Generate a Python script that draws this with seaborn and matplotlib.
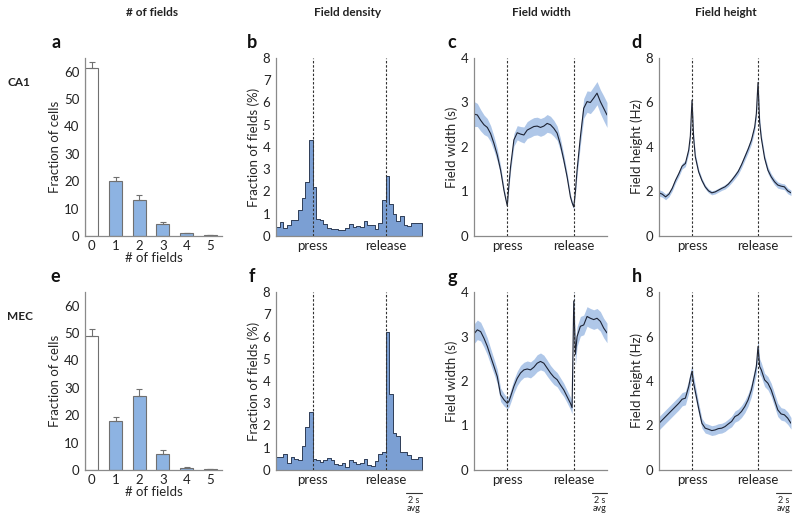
import numpy as np
import pandas as pd
import seaborn as sns
import matplotlib.pyplot as plt


# data                ----------------------------------------------------------------
n_fields = ["0", "1", "2", "3", "4", "5"]
frac_cells_ca1 = [61.5, 20.0, 13.3, 4.2, 1.0, 0.3]
frac_cells_ca1_err = [2.0, 1.7, 1.7, 1.0, 0.25, 0.1]
frac_cells_mec = [48.8, 17.8, 27.2, 5.9, 0.7, 0.2]
frac_cells_mec_err = [2.7, 1.7, 2.5, 1.3, 0.4, 0.1]

# field density, 40 bins over the normalised press-release cycle
density_ca1 = [0.40, 0.65, 0.36, 0.50, 0.72, 0.72, 1.15, 1.70, 2.43, 4.30,
               2.22, 0.76, 0.72, 0.52, 0.36, 0.31, 0.30, 0.27, 0.27, 0.34,
               0.52, 0.39, 0.45, 0.42, 0.69, 0.48, 0.48, 0.31, 0.57, 1.60,
               2.70, 1.42, 1.00, 0.68, 0.88, 0.50, 0.45, 0.57, 0.57, 0.60]
density_mec = [0.60, 0.57, 0.72, 0.30, 0.57, 0.50, 0.45, 1.10, 1.92, 2.60,
               0.48, 0.45, 0.37, 0.45, 0.54, 0.45, 0.25, 0.21, 0.33, 0.15,
               0.45, 0.37, 0.28, 0.33, 0.51, 0.21, 0.18, 0.40, 0.73, 0.80,
               6.20, 3.42, 1.65, 1.55, 0.80, 0.80, 0.68, 0.48, 0.50, 0.57]

# normalised time (press at 0.25, release at 0.75)
t_norm = [0.0, 0.025, 0.05, 0.075, 0.1, 0.125, 0.15, 0.175, 0.2, 0.225,
          0.2375, 0.25, 0.2625, 0.275,
          0.3, 0.325, 0.35, 0.375, 0.4, 0.425, 0.45, 0.475, 0.5, 0.525,
          0.55, 0.575, 0.6, 0.625, 0.65, 0.675, 0.7, 0.725,
          0.7375, 0.75, 0.7625, 0.775,
          0.8, 0.825, 0.85, 0.875, 0.9, 0.925, 0.95, 0.975, 1.0]

width_ca1 = [2.74, 2.72, 2.60, 2.50, 2.44, 2.30, 2.08, 1.82, 1.48, 1.03,
             0.85, 0.68, 1.15, 1.56,
             2.16, 2.32, 2.29, 2.27, 2.38, 2.42, 2.46, 2.47, 2.44, 2.47,
             2.53, 2.50, 2.42, 2.31, 2.05, 1.71, 1.33, 0.88,
             0.75, 0.65, 1.00, 1.48,
             2.23, 2.87, 3.02, 3.00, 3.10, 3.21, 3.02, 2.87, 2.72]
width_ca1_sem = [0.28, 0.26, 0.24, 0.22, 0.20, 0.18, 0.16, 0.14, 0.10, 0.07,
                 0.05, 0.04, 0.06, 0.10,
                 0.14, 0.16, 0.17, 0.18, 0.19, 0.20, 0.20, 0.20, 0.20, 0.20,
                 0.20, 0.19, 0.18, 0.16, 0.14, 0.12, 0.09, 0.06,
                 0.05, 0.04, 0.06, 0.12,
                 0.18, 0.22, 0.24, 0.25, 0.26, 0.26, 0.27, 0.28, 0.28]

height_ca1 = [1.94, 1.88, 1.76, 1.88, 2.14, 2.50, 2.80, 3.14, 3.26, 3.86,
              4.50, 6.10, 4.40, 3.56,
              2.89, 2.50, 2.21, 2.03, 1.94, 1.98, 2.06, 2.14, 2.21, 2.33,
              2.50, 2.69, 2.90, 3.20, 3.55, 3.90, 4.30, 4.90,
              5.50, 6.90, 5.10, 4.40,
              3.50, 2.96, 2.66, 2.44, 2.29, 2.24, 2.21, 2.03, 1.94]
height_ca1_sem = [0.14, 0.14, 0.13, 0.12, 0.12, 0.12, 0.13, 0.13, 0.14, 0.15,
                  0.18, 0.25, 0.18, 0.15,
                  0.12, 0.10, 0.09, 0.09, 0.09, 0.09, 0.09, 0.09, 0.10, 0.10,
                  0.11, 0.12, 0.13, 0.14, 0.15, 0.16, 0.17, 0.18,
                  0.20, 0.30, 0.20, 0.18,
                  0.16, 0.15, 0.14, 0.14, 0.14, 0.13, 0.13, 0.13, 0.12]

width_mec = [3.06, 3.15, 3.11, 2.96, 2.78, 2.55, 2.33, 2.10, 1.69, 1.58,
             1.54, 1.50, 1.54, 1.65,
             1.88, 2.06, 2.18, 2.25, 2.27, 2.25, 2.31, 2.40, 2.44, 2.40,
             2.29, 2.18, 2.09, 2.03, 1.91, 1.80, 1.65, 1.50,
             1.40, 3.80, 2.60, 3.00,
             3.23, 3.26, 3.45, 3.41, 3.38, 3.41, 3.34, 3.19, 3.08]
width_mec_sem = [0.22, 0.22, 0.21, 0.20, 0.19, 0.18, 0.17, 0.16, 0.15, 0.14,
                 0.13, 0.13, 0.13, 0.14,
                 0.15, 0.16, 0.17, 0.17, 0.18, 0.18, 0.18, 0.19, 0.19, 0.18,
                 0.18, 0.17, 0.17, 0.16, 0.16, 0.15, 0.14, 0.14,
                 0.14, 0.30, 0.25, 0.22,
                 0.22, 0.22, 0.22, 0.22, 0.22, 0.22, 0.22, 0.22, 0.22]

height_mec = [2.10, 2.25, 2.40, 2.55, 2.70, 2.85, 3.00, 3.18, 3.23, 3.75,
              4.13, 4.43, 3.90, 3.53,
              2.78, 2.10, 1.88, 1.83, 1.77, 1.80, 1.86, 1.88, 1.95, 2.07,
              2.18, 2.40, 2.48, 2.63, 2.85, 3.15, 3.60, 4.28,
              4.65, 5.55, 4.65, 4.50,
              4.05, 3.90, 3.60, 3.15, 2.70, 2.52, 2.48, 2.33, 2.10]
height_mec_sem = [0.30, 0.30, 0.30, 0.30, 0.30, 0.30, 0.30, 0.30, 0.30, 0.30,
                  0.30, 0.32, 0.30, 0.28,
                  0.25, 0.22, 0.22, 0.22, 0.22, 0.22, 0.22, 0.22, 0.22, 0.22,
                  0.24, 0.25, 0.26, 0.27, 0.28, 0.28, 0.30, 0.30,
                  0.32, 0.40, 0.35, 0.32,
                  0.30, 0.30, 0.30, 0.30, 0.30, 0.28, 0.28, 0.28, 0.26]

event_times = [0.25, 0.75]
event_labels = ["press", "release"]


# style                ----------------------------------------------------------------
sns.set_style("white")
plt.rcParams["font.family"] = ["Lato", "DejaVu Sans"]

BAR_BLUE = "#8db3e2"
HIST_BLUE = "#7b9fd3"
BAND_BLUE = "#a7c1e6"
SPINE = "#8a8a8a"
TXT = "#222222"

fig = plt.figure(figsize=(8, 5.19), dpi=100)
W, H = 800, 519


def add_axes(x0, x1, ytop, ybot):
    return fig.add_axes([x0 / W, 1 - ybot / H, (x1 - x0) / W, (ybot - ytop) / H])


def style_axes(ax):
    sns.despine(ax=ax, top=True, right=True)
    for s in ["left", "bottom"]:
        ax.spines[s].set_color(SPINE)
        ax.spines[s].set_linewidth(0.9)
    ax.tick_params(axis="y", length=2.5, width=0.8, color=SPINE, labelsize=9.5, labelcolor=TXT, pad=1.5)
    ax.tick_params(axis="x", length=0, labelsize=9.5, labelcolor=TXT, pad=3)


def fields_plot(ax, vals, errs):
    df = pd.DataFrame({"n": n_fields, "frac": vals})
    sns.barplot(data=df, x="n", y="frac", hue="n", legend=False,
                palette=["white"] + [BAR_BLUE] * 5, saturation=1, width=0.55,
                edgecolor="#707070", linewidth=0.8, ax=ax)
    centers = [p.get_x() + p.get_width() / 2 for p in ax.patches]
    ax.errorbar(centers, vals, yerr=[np.zeros(len(errs)), errs], fmt="none",
                ecolor="#707070", elinewidth=0.8, capsize=2, capthick=0.8)
    ax.set_xlim(-0.29, 5.5)
    ax.set_ylim(0, 65)
    ax.set_yticks([0, 10, 20, 30, 40, 50, 60])
    ax.set_ylabel("Fraction of cells", fontsize=9.5, labelpad=2)
    ax.set_xlabel("# of fields", fontsize=9.5, labelpad=0)
    style_axes(ax)


def density_plot(ax, vals):
    nbins = len(vals)
    df = pd.DataFrame({"t": (np.arange(nbins) + 0.5) / nbins, "frac": vals})
    sns.histplot(data=df, x="t", weights="frac", bins=nbins, binrange=(0, 1),
                 element="step", fill=True, color=HIST_BLUE, alpha=1,
                 edgecolor="#2e3d57", linewidth=0.7, ax=ax)
    ax.set_xlim(0, 1)
    ax.set_ylim(0, 8)
    ax.set_yticks(range(0, 9))
    ax.set_ylabel("Fraction of fields (%)", fontsize=9.5, labelpad=2)


def curve_plot(ax, mean, sem, ymax, yticks, ylabel):
    mean = np.array(mean)
    sem = np.array(sem)
    ax.fill_between(t_norm, mean - sem, mean + sem, color=BAND_BLUE, lw=0, alpha=0.9)
    sns.lineplot(x=t_norm, y=mean, color="#1c2233", lw=0.8, ax=ax)
    ax.set_xlim(0, 1)
    ax.set_ylim(0, ymax)
    ax.set_yticks(yticks)
    ax.set_ylabel(ylabel, fontsize=9.5, labelpad=2)


def finish_time_axes(ax):
    for t in event_times:
        ax.axvline(t, color="#333333", lw=0.8, ls=(0, (2.2, 1.6)), zorder=5)
    ax.set_xticks(event_times)
    ax.set_xticklabels(event_labels)
    ax.set_xlabel("")
    style_axes(ax)


def scale_bar(ax):
    ax.plot([0.89, 1.0], [-0.13, -0.13], transform=ax.transAxes, color="#333333",
            lw=0.8, clip_on=False)
    ax.text(0.945, -0.145, "2 s", transform=ax.transAxes, ha="center", va="top",
            fontsize=6.5, color=TXT)
    ax.text(0.945, -0.19, "avg", transform=ax.transAxes, ha="center", va="top",
            fontsize=6.5, color=TXT)


rows = [
    (58, 236, frac_cells_ca1, frac_cells_ca1_err, density_ca1,
     width_ca1, width_ca1_sem, height_ca1, height_ca1_sem),
    (292, 470, frac_cells_mec, frac_cells_mec_err, density_mec,
     width_mec, width_mec_sem, height_mec, height_mec_sem),
]

for r, (ytop, ybot, fr, fr_err, dens, wid, wid_sem, hgt, hgt_sem) in enumerate(rows):
    ax_a = add_axes(85, 222, ytop, ybot)
    fields_plot(ax_a, fr, fr_err)

    ax_b = add_axes(276, 422, ytop, ybot)
    density_plot(ax_b, dens)
    finish_time_axes(ax_b)

    ax_c = add_axes(474, 607, ytop, ybot)
    curve_plot(ax_c, wid, wid_sem, 4, [0, 1, 2, 3, 4], "Field width (s)")
    finish_time_axes(ax_c)

    ax_d = add_axes(659, 791, ytop, ybot)
    curve_plot(ax_d, hgt, hgt_sem, 8, [0, 2, 4, 6, 8], "Field height (Hz)")
    finish_time_axes(ax_d)

    if r == 1:
        for ax in [ax_b, ax_c, ax_d]:
            scale_bar(ax)

# headers, row labels and panel letters
for x, label in zip([152, 348, 541, 726], ["# of fields", "Field density", "Field width", "Field height"]):
    fig.text(x / W, 1 - 13 / H, label, ha="center", va="center", fontsize=8.5, fontweight="bold", color=TXT)

fig.text(7 / W, 1 - 83 / H, "CA1", ha="left", va="center", fontsize=8.5, fontweight="bold", color=TXT)
fig.text(7 / W, 1 - 317 / H, "MEC", ha="left", va="center", fontsize=8.5, fontweight="bold", color=TXT)

letters = [("a", 56, 43), ("b", 252, 42), ("c", 452, 42), ("d", 637, 42),
           ("e", 55, 277), ("f", 252, 276), ("g", 452, 277), ("h", 637, 277)]
for letter, x, y in letters:
    fig.text(x / W, 1 - y / H, letter, ha="center", va="center", fontsize=13, fontweight="bold", color="#111111")

plt.savefig("out.png", dpi=100)
